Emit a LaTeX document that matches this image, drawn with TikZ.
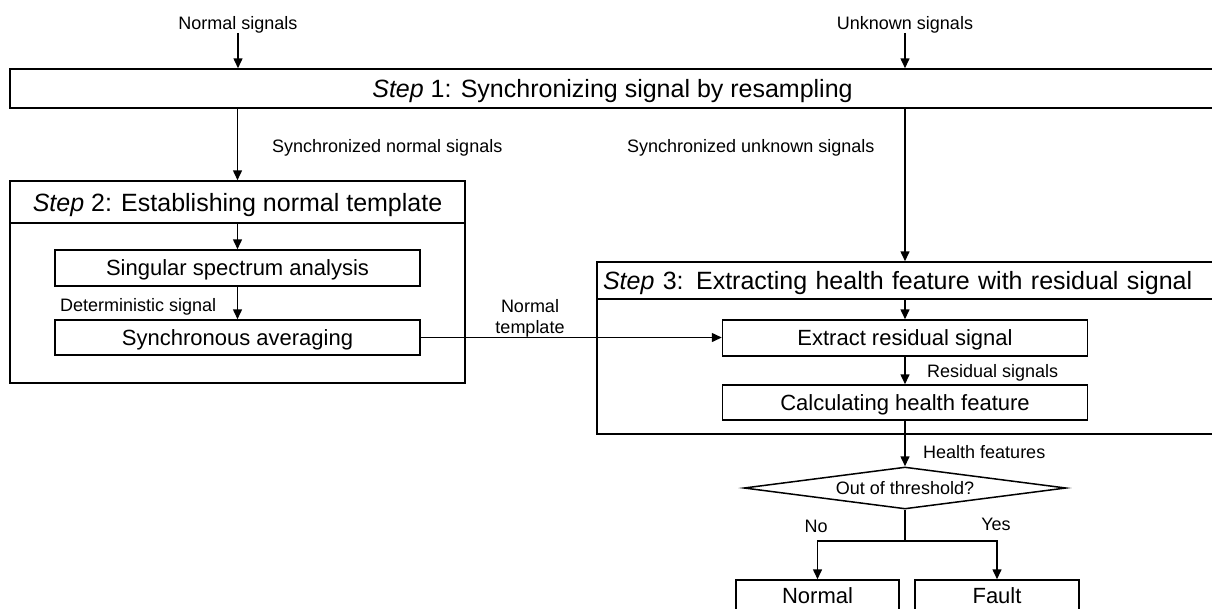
\documentclass[tikz,border=0pt]{standalone}
\usepackage{fontspec}
\setmainfont{Liberation Sans}
\usetikzlibrary{arrows.meta,shapes.geometric}
\tikzset{
  lbl/.style={inner sep=0pt, font=\fontsize{18}{20}\selectfont},
  ttl/.style={draw, line width=1.5pt, inner sep=0pt, text height=18pt, text depth=0pt,
              font=\fontsize{25}{28}\selectfont},
  box/.style={draw, line width=1.5pt, inner sep=0pt, text height=15.8pt, text depth=0pt,
              font=\fontsize{22}{25}\selectfont},
  frame/.style={draw, line width=1.5pt, inner sep=0pt},
  decide/.style={draw, line width=1.5pt, shape=diamond, aspect=7.6, inner sep=0pt,
                 font=\fontsize{18}{20}\selectfont},
  arr/.style={line width=1.5pt, -{Triangle[length=10pt,width=9pt]}},
  ln/.style={line width=1.5pt},
}
\begin{document}
\begin{tikzpicture}[x=1pt,y=-1pt]
\useasboundingbox (0,0) rectangle (1212,608);
\fill[white] (0,0) rectangle (1212,608);
\clip (0,0) rectangle (1212,608);

% inputs
\node[lbl, anchor=base] (ns) at (238,29) {Normal signals};
\node[lbl, anchor=base] (us) at (905,29) {Unknown signals};

% step 1
\node[ttl, minimum width=1205pt, minimum height=39pt] (s1) at (612.5,88.5)
  {\textit{Step} 1: Synchronizing signal by resampling};
\draw[arr] (ns.south) -- (ns.south |- s1.north);
\draw[arr] (us.south) -- (us.south |- s1.north);

\node[lbl, anchor=base west] (snl) at (272,152) {Synchronized normal signals};
\node[lbl, anchor=base west] (sul) at (627,152) {Synchronized unknown signals};

% step 2
\node[ttl, minimum width=455pt, minimum height=42pt] (s2t) at (237.5,202)
  {\textit{Step} 2: Establishing normal template};
\node[frame, minimum width=455pt, minimum height=160pt] (s2b) at (237.5,303) {};
\draw[arr] (s1.south -| s2t.north) -- (s2t.north);

\node[box, minimum width=365pt, minimum height=36pt] (ssa) at (237.5,268)
  {Singular spectrum analysis};
\node[box, minimum width=365pt, minimum height=35pt] (sa) at (237.5,337.5)
  {Synchronous averaging};
\draw[arr] (s2t.south) -- (ssa.north);
\draw[arr] (ssa.south) -- (sa.north);
\node[lbl, anchor=base west] (dsl) at (60,311) {Deterministic signal};

% step 3
\node[ttl, minimum width=633pt, minimum height=37pt, text width=621pt, align=left,
      inner xsep=6pt] (s3t) at (913.5,280.5)
  {\textit{Step} 3: Extracting health feature with residual signal};
\node[frame, minimum width=633pt, minimum height=135pt] (s3b) at (913.5,366.5) {};
\draw[arr] (s1.south -| us.south) -- (s3t.north -| us.south);

\node[box, minimum width=365pt, minimum height=36pt] (ex) at (905,338)
  {Extract residual signal};
\node[box, minimum width=365pt, minimum height=35pt] (calc) at (905,402.5)
  {Calculating health feature};
\draw[arr] (s3t.south -| ex.north) -- (ex.north);
\draw[arr] (ex.south) -- (calc.north);
\node[lbl, anchor=base west] (rsl) at (927,377) {Residual signals};

% template into step 3
\draw[arr] (sa.east) -- (sa.east -| ex.west);
\node[lbl, align=center] (ntl) at (530,318) {Normal\\[1pt]template};

% decision
\node[decide, minimum width=322pt, minimum height=42pt] (dia) at (905,488)
  {Out of threshold?};
\draw[arr] (calc.south) -- (dia.north);
\node[lbl, anchor=base west] (hfl) at (923,458) {Health features};

\node[box, minimum width=163pt, minimum height=32pt] (nb) at (817.5,596) {Normal};
\node[box, minimum width=164pt, minimum height=32pt] (fb) at (997,596) {Fault};

\coordinate (split) at ([yshift=-31pt]dia.south);
\draw[ln] (dia.south) -- (split);
\draw[arr] (split) -| (nb.north);
\draw[arr] (split) -| (fb.north);
\node[lbl, anchor=base] (nol) at (816,532) {No};
\node[lbl, anchor=base] (yesl) at (996,530) {Yes};
\end{tikzpicture}
\end{document}
